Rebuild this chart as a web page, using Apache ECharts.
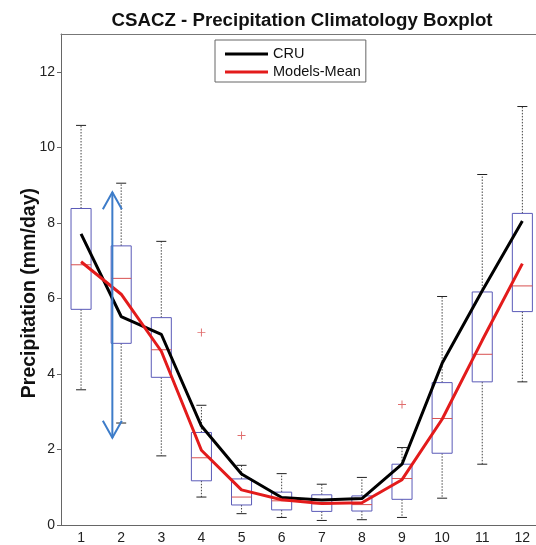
<!DOCTYPE html>
<html>
<head>
<meta charset="utf-8">
<script src="https://cdn.jsdelivr.net/npm/echarts@6/dist/echarts.min.js"></script>
<style>
  html, body { margin: 0; padding: 0; background: #fff; }
  #chart { width: 536px; height: 545px; }
</style>
</head>
<body>
<div id="chart"></div>
<script>
// Monthly precipitation climatology (mm/day) for the CSACZ region
const months = ['1', '2', '3', '4', '5', '6', '7', '8', '9', '10', '11', '12'];
const whiskerLow  = [3.58, 2.70, 1.83, 0.74, 0.30, 0.20, 0.12, 0.14, 0.20, 0.71, 1.61, 3.79];
const quartile1   = [5.71, 4.81, 3.91, 1.17, 0.53, 0.40, 0.36, 0.37, 0.68, 1.90, 3.79, 5.65];
const medians     = [6.89, 6.53, 4.64, 1.78, 0.74, 0.64, 0.56, 0.54, 1.23, 2.82, 4.52, 6.33];
const quartile3   = [8.38, 7.39, 5.49, 2.45, 1.22, 0.87, 0.80, 0.77, 1.61, 3.77, 6.17, 8.25];
const whiskerHigh = [10.58, 9.05, 7.51, 3.17, 1.58, 1.36, 1.08, 1.26, 2.05, 6.05, 9.28, 11.08];
const outliers = [[4, 5.10], [5, 2.37], [9, 3.19]];
const cru        = [7.71, 5.52, 5.05, 2.62, 1.35, 0.73, 0.66, 0.70, 1.61, 4.28, 6.20, 8.05];
const modelsMean = [6.97, 6.11, 4.60, 1.98, 0.93, 0.67, 0.57, 0.59, 1.20, 2.80, 4.89, 6.92];
// Spread marker between months 1 and 2: [x, low, high]
const spread = [1.78, 2.31, 8.81];
const yTicks = [0, 2, 4, 6, 8, 10, 12];
const xTicks = months.map(Number);

const FONT = "'Liberation Sans', Arial, sans-serif";
const chart = echarts.init(document.getElementById('chart'), null, { renderer: 'canvas' });

const boxData = months.map((m, i) => [i + 1, whiskerLow[i], quartile1[i], medians[i], quartile3[i], whiskerHigh[i]]);

function renderBox(params, api) {
  const x = api.value(0);
  const lo = api.coord([x, api.value(1)]);
  const q1 = api.coord([x, api.value(2)]);
  const md = api.coord([x, api.value(3)]);
  const q3 = api.coord([x, api.value(4)]);
  const hi = api.coord([x, api.value(5)]);
  const halfBox = api.size([0.25, 0])[0];
  const halfCap = api.size([0.125, 0])[0];
  const cx = lo[0];
  const whiskerStyle = { stroke: '#444', lineWidth: 1, lineDash: [1.5, 1.5] };
  const capStyle = { stroke: '#222', lineWidth: 1 };
  return {
    type: 'group',
    children: [
      { type: 'line', shape: { x1: cx, y1: q3[1], x2: cx, y2: hi[1] }, style: whiskerStyle },
      { type: 'line', shape: { x1: cx, y1: q1[1], x2: cx, y2: lo[1] }, style: whiskerStyle },
      { type: 'line', shape: { x1: cx - halfCap, y1: hi[1], x2: cx + halfCap, y2: hi[1] }, style: capStyle },
      { type: 'line', shape: { x1: cx - halfCap, y1: lo[1], x2: cx + halfCap, y2: lo[1] }, style: capStyle },
      { type: 'rect', shape: { x: cx - halfBox, y: q3[1], width: halfBox * 2, height: q1[1] - q3[1] },
        style: { fill: '#fff', stroke: '#5a5ab8', lineWidth: 1 } },
      { type: 'line', shape: { x1: cx - halfBox, y1: md[1], x2: cx + halfBox, y2: md[1] },
        style: { stroke: '#d85050', lineWidth: 1 } }
    ]
  };
}

function renderArrow(params, api) {
  const x = api.value(0);
  const lo = api.coord([x, api.value(1)]);
  const hi = api.coord([x, api.value(2)]);
  const hw = 9.5, hh = 17;
  const st = { stroke: '#3d7cc9', lineWidth: 2, fill: 'none' };
  return {
    type: 'group',
    children: [
      { type: 'line', shape: { x1: lo[0], y1: lo[1], x2: hi[0], y2: hi[1] }, style: st },
      { type: 'polyline', shape: { points: [[hi[0] - hw, hi[1] + hh], [hi[0], hi[1]], [hi[0] + hw, hi[1] + hh]] }, style: st },
      { type: 'polyline', shape: { points: [[lo[0] - hw, lo[1] - hh], [lo[0], lo[1]], [lo[0] + hw, lo[1] - hh]] }, style: st }
    ]
  };
}

const option = {
  backgroundColor: '#fff',
  animation: false,
  title: {
    text: 'CSACZ - Precipitation Climatology Boxplot',
    left: 297, top: 6, textAlign: 'center',
    textStyle: { fontFamily: FONT, fontSize: 18.7, fontWeight: 'bold', color: '#111' }
  },
  legend: {
    orient: 'vertical',
    left: 215, top: 40,
    padding: [6, 5, 2, 10],
    itemGap: 2,
    itemWidth: 43, itemHeight: 3,
    borderColor: '#666', borderWidth: 1,
    backgroundColor: '#fff',
    textStyle: { fontFamily: FONT, fontSize: 14.5, color: '#111', lineHeight: 16 },
    data: [
      { name: 'CRU', icon: 'rect' },
      { name: 'Models-Mean', icon: 'rect' }
    ]
  },
  graphic: [{
    type: 'text',
    left: 20, top: 188,
    rotation: Math.PI / 2,
    style: { text: 'Precipitation (mm/day)', font: "bold 19.5px 'Liberation Sans', Arial, sans-serif", fill: '#111' }
  }],
  grid: { left: 61, right: 0, top: 34, bottom: 19.5, show: false },
  xAxis: [{
    type: 'value', min: 0.5, max: 12.34, position: 'bottom',
    axisLine: { show: true, lineStyle: { color: '#666' } },
    axisTick: { show: false },
    axisLabel: { fontFamily: FONT, fontSize: 14, color: '#222', margin: 6, customValues: xTicks,
      showMinLabel: true, showMaxLabel: true },
    splitLine: { show: false }
  }, {
    type: 'value', min: 0.5, max: 12.34, position: 'top',
    axisLine: { show: true, onZero: false, lineStyle: { color: '#777' } },
    axisTick: { show: false }, axisLabel: { show: false }, splitLine: { show: false }
  }],
  yAxis: {
    type: 'value', min: 0, max: 13, interval: 2,
    axisLine: { show: true, lineStyle: { color: '#666' } },
    axisTick: { show: true, length: 4, inside: false, lineStyle: { color: '#666' },
      customValues: yTicks },
    axisLabel: { fontFamily: FONT, fontSize: 14, color: '#222', margin: 6, customValues: yTicks },
    splitLine: { show: false }
  },
  series: [
    {
      type: 'custom', name: 'box', xAxisIndex: 0, renderItem: renderBox,
      data: boxData, z: 2, silent: true
    },
    {
      type: 'scatter', name: 'outliers', xAxisIndex: 0, data: outliers,
      symbol: 'path://M4.4,0h1.2v10h-1.2z M0,4.4h10v1.2h-10z', symbolSize: 8,
      itemStyle: { color: '#d84848' }, z: 3, silent: true
    },
    {
      type: 'line', name: 'CRU', xAxisIndex: 0,
      data: cru.map((v, i) => [i + 1, v]),
      showSymbol: false, symbol: 'none',
      lineStyle: { color: '#000', width: 3 }, itemStyle: { color: '#000' }, z: 4
    },
    {
      type: 'line', name: 'Models-Mean', xAxisIndex: 0,
      data: modelsMean.map((v, i) => [i + 1, v]),
      showSymbol: false, symbol: 'none',
      lineStyle: { color: '#e31b1b', width: 3 }, itemStyle: { color: '#e31b1b' }, z: 5
    },
    {
      type: 'custom', name: 'spread', xAxisIndex: 0, renderItem: renderArrow,
      data: [spread], z: 6, silent: true
    }
  ]
};
chart.setOption(option);
</script>
</body>
</html>
